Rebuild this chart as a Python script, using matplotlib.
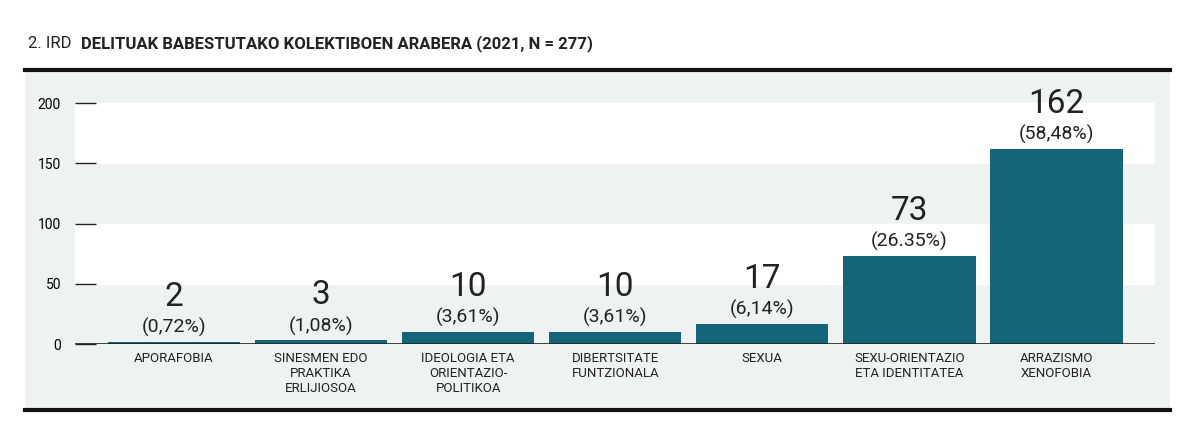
import matplotlib.pyplot as plt
from matplotlib.lines import Line2D
from matplotlib.patches import Rectangle

categories = ["APORAFOBIA", "SINESMEN EDO\nPRAKTIKA\nERLIJIOSOA", "IDEOLOGIA ETA\nORIENTAZIO-\nPOLITIKOA",
              "DIBERTSITATE\nFUNTZIONALA", "SEXUA", "SEXU-ORIENTAZIO\nETA IDENTITATEA", "ARRAZISMO\nXENOFOBIA"]
values = [2, 3, 10, 10, 17, 73, 162]
pct_labels = ["(0,72%)", "(1,08%)", "(3,61%)", "(3,61%)", "(6,14%)", "(26.35%)", "(58,48%)"]
yticks = [0, 50, 100, 150, 200]

plt.rcParams['font.family'] = ['Roboto', 'DejaVu Sans']
bar_color = '#14657a'

fig = plt.figure(figsize=(12, 4.44), dpi=100)
# grey panel and black rules, drawn behind the axes
fig.patches.append(Rectangle((25/1200, 1-410/444), 1145/1200, 340/444, transform=fig.transFigure,
                             facecolor='#eef3f2', edgecolor='none', zorder=-10))
fig.lines.append(Line2D([25/1200, 1170/1200], [1-70/444]*2, transform=fig.transFigure, color='#111', lw=3))
fig.lines.append(Line2D([25/1200, 1170/1200], [1-410/444]*2, transform=fig.transFigure, color='#111', lw=3))

fig.text(28/1200, 1-48/444, "2. IRD", fontsize=12, color='#222', va='baseline')
fig.text(81/1200, 1-48/444, "DELITUAK BABESTUTAKO KOLEKTIBOEN ARABERA (2021, N = 277)",
         fontsize=12, color='#222', va='baseline', fontweight='bold')

ax = fig.add_axes([75/1200, 1-344/444, 1080/1200, (344-80)/444])
ax.set_facecolor('none')
ymax = 200 * (344-80) / (344-103)
ax.set_ylim(0, ymax)
ax.set_xlim(-0.673, 6.67)
ax.axhspan(150, 200, color='white', zorder=0)
ax.axhspan(50, 100, color='white', zorder=0)

x = range(len(values))
ax.bar(x, values, width=0.9, color=bar_color, zorder=2)
ax.axhline(0, color='#222', lw=1.2, zorder=3)
for i, v in enumerate(values):
    ax.text(i, v + 4, pct_labels[i], ha='center', va='bottom', fontsize=14, color='#222')
    ax.text(i, v + 24, str(v), ha='center', va='bottom', fontsize=24, color='#222')

for s in ax.spines.values():
    s.set_visible(False)
ax.set_yticks(yticks)
ax.set_yticklabels([str(t) for t in yticks], fontsize=10)
ax.tick_params(axis='y', direction='in', length=15, width=1, pad=10, color='#222')
ax.set_xticks(list(x))
ax.set_xticklabels(categories, fontsize=9.5, linespacing=1.2, color='#222')
ax.tick_params(axis='x', length=0, pad=6)

fig.savefig('out.png', dpi=100)
